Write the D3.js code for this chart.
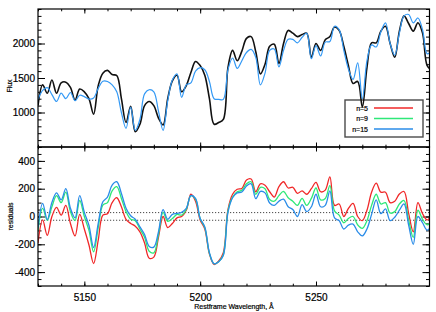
<!DOCTYPE html>
<html>
<head>
<meta charset="utf-8">
<script src="https://cdn.jsdelivr.net/npm/d3@7"></script>
<style>
  body { margin: 0; background: #fff; }
  svg { display: block; }
  svg text { stroke: #000; stroke-width: 0.2px; }
</style>
</head>
<body>
<svg id="chart" width="436" height="312"></svg>
<script>
// rest-frame wavelength grid (A)
var wave = [
  5130, 5132, 5134, 5136, 5138, 5140, 5142, 5144, 5146, 5148,
  5150, 5152, 5154, 5156, 5158, 5160, 5162, 5164, 5166, 5168,
  5170, 5172, 5174, 5176, 5178, 5180, 5182, 5184, 5186, 5188,
  5190, 5192, 5194, 5196, 5198, 5200, 5202, 5204, 5206, 5208,
  5210, 5212, 5214, 5216, 5218, 5220, 5222, 5224, 5226, 5228,
  5230, 5232, 5234, 5236, 5238, 5240, 5242, 5244, 5246, 5248,
  5250, 5252, 5254, 5256, 5258, 5260, 5262, 5264, 5266, 5268,
  5270, 5272, 5274, 5276, 5278, 5280, 5282, 5284, 5286, 5288,
  5290, 5292, 5294, 5296, 5298, 5300
];

// observed flux (black)
var fluxObs = [
  1100, 1400, 1280, 1470, 1280, 1430, 1440, 1365, 1180, 1340,
  1300, 1200, 975, 1390, 1570, 1610, 1550, 1536, 1200, 855,
  1090, 720, 830, 1100, 1160, 1100, 920, 820, 1200, 1460,
  1540, 1300, 1390, 1580, 1740, 1680, 1540, 1200, 830, 855,
  900, 1650, 1900, 1750, 1890, 2075, 2100, 1880, 1560, 1700,
  1960, 1990, 1710, 2000, 2190, 2150, 2100, 2130, 2150, 1800,
  2000, 1900, 2055, 2100, 2240, 2190, 1960, 1680, 1420, 1450,
  1080, 1650, 2010, 2010, 2180, 2250, 2000, 1800, 2180, 2400,
  2290, 2180, 2300, 2150, 1680, 1610
];

// model flux (blue)
var fluxModel = [
  1190, 1320, 1360, 1260, 1160, 1280, 1200, 1290, 1170, 1250,
  1230, 1195, 1210, 1350, 1454, 1450, 1400, 1300, 1000, 770,
  1080, 740, 900, 1270, 1330, 1300, 1020, 740, 1170, 1470,
  1560, 1220, 1400, 1430, 1600, 1650, 1620, 1450, 1200, 1190,
  1190, 1620, 1790, 1640, 1750, 1870, 1915, 1800, 1400, 1570,
  1900, 1920, 1660, 1900, 2060, 2060, 2010, 2090, 2150, 1780,
  1970, 1820, 2020, 2030, 2250, 2200, 1900, 1630, 1480, 1720,
  1200, 1750, 1980, 1950, 2170, 2300, 2000, 1830, 2150, 2400,
  2420, 2300, 2370, 2200, 1850, 1900
];

// residuals for n=5, n=9, n=15
var resN5 = [
  -190, -25, -135, 0, 65, 10, 80, -50, -140, 15,
  -90, -205, -338, -170, 10, 20, 100, 135, 70, -20,
  -50, -70, -110, -190, -300, -292, -150, 0, -80, -50,
  -10, 0, 45, 160, 110, -25, -90, -270, -345, -320,
  -260, 50, 160, 196, 202, 262, 270, 178, 235, 225,
  178, 140, 215, 250, 205, 210, 166, 185, 160, 200,
  245, 178, 190, 285, 80, 90, 0, 58, 94, 0,
  -30, 45, 175, 240, 175, 175, 100, 110, 162, 180,
  22, -110, 100, 20, -25, 22
];
var resN9 = [
  -100, 58, -27, 70, 150, 100, 175, 35, -30, 115,
  0, -100, -254, -80, 82, 100, 185, 215, 130, 35,
  -20, -30, -90, -150, -250, -262, -130, 30, -35, -15,
  15, 10, 50, 150, 125, -15, -80, -265, -340, -325,
  -275, 40, 140, 178, 188, 235, 250, 160, 210, 200,
  122, 110, 150, 180, 135, 110, 80, 130, 80, 130,
  205, 120, 130, 222, 40, 10, -45, -14, 0, -60,
  -85, -30, 80, 160, 90, 100, 25, 35, 90, 115,
  -26, -150, 45, -20, -60, -26
];
var resN15 = [
  -80, 95, -22, 100, 170, 120, 200, 60, -10, 150,
  30, -65, -223, -50, 106, 140, 225, 250, 166, 60,
  5, -20, -75, -130, -215, -220, -110, 50, -20, 15,
  22, 30, 58, 150, 130, -14, -75, -260, -340, -325,
  -280, 30, 135, 170, 176, 220, 235, 128, 180, 170,
  97, 80, 110, 125, 70, 50, 0, 85, 35, 70,
  160, 70, 80, 185, -10, -30, -90, -62, -55, -110,
  -140, -90, 15, 120, 20, 55, -30, -5, 45, 90,
  -62, -200, 0, -45, -98, -62
];

// dotted reference levels in the residual panel
var dottedLevels = [28, -27];

var legendLabels = ["n=5", "n=9", "n=15"];
var legendColors = ["#f02828", "#2ee878", "#2a8ce8"];

var waveTicks = [5150, 5200, 5250];
var fluxTicks = [1000, 1500, 2000];
var resTicks = [-400, -200, 0, 200, 400];

(function() {

  var svg = d3.select("#chart");
  var font = "'Liberation Sans', Arial, Helvetica, sans-serif";

  var left = 38, right = 429.5;
  var topY = 9, midY = 147, bottomY = 286;

  var x = d3.scaleLinear().domain([5130, 5299]).range([left, right]);
  var yFlux = d3.scaleLinear().domain([500, 2500]).range([midY, topY]);
  var yRes = d3.scaleLinear().domain([-500, 500]).range([bottomY, midY]);

  var waveMinor = d3.range(5130, 5300, 10);
  var fluxMinor = d3.range(500, 2501, 100);
  var resMinor = d3.range(-500, 501, 50);

  var defs = svg.append("defs");
  defs.append("clipPath").attr("id", "clipTop")
    .append("rect").attr("x", left).attr("y", topY)
    .attr("width", right - left).attr("height", midY - topY);
  defs.append("clipPath").attr("id", "clipBot")
    .append("rect").attr("x", left).attr("y", midY)
    .attr("width", right - left).attr("height", bottomY - midY);

  var asLabel = function(d) { return String(d); };

  function addAxis(axis, tx, ty) {
    var g = svg.append("g")
      .attr("transform", "translate(" + tx + "," + ty + ")")
      .attr("font-family", font)
      .attr("font-size", 7)
      .call(axis);
    g.select(".domain").remove();
    g.selectAll("line").attr("stroke", "#000").attr("stroke-width", 1);
    g.selectAll("text").attr("fill", "#000");
    return g;
  }

  // ---- ticks, both panels, all four sides pointing in
  [[yFlux, fluxMinor, fluxTicks], [yRes, resMinor, resTicks]].forEach(function(p) {
    addAxis(d3.axisLeft(p[0]).tickValues(p[1]).tickSize(-3.5).tickFormat(""), left, 0);
    addAxis(d3.axisRight(p[0]).tickValues(p[1]).tickSize(-3.5).tickFormat(""), right, 0);
    addAxis(d3.axisLeft(p[0]).tickValues(p[2]).tickSize(-7).tickPadding(3).tickFormat(asLabel), left, 0);
    addAxis(d3.axisRight(p[0]).tickValues(p[2]).tickSize(-7).tickFormat(""), right, 0);
  });

  [[topY, d3.axisTop], [midY, d3.axisBottom], [midY, d3.axisTop]].forEach(function(p) {
    addAxis(p[1](x).tickValues(waveMinor).tickSize(-2.3).tickFormat(""), 0, p[0]);
    addAxis(p[1](x).tickValues(waveTicks).tickSize(-4.5).tickFormat(""), 0, p[0]);
  });
  addAxis(d3.axisBottom(x).tickValues(waveMinor).tickSize(-2.3).tickFormat(""), 0, bottomY);
  addAxis(d3.axisBottom(x).tickValues(waveTicks).tickSize(-4.5).tickPadding(8).tickFormat(asLabel), 0, bottomY);

  // ---- legend (drawn under the curves)
  var leg = svg.append("g");
  leg.append("rect")
    .attr("x", 345).attr("y", 100)
    .attr("width", 78).attr("height", 37)
    .attr("fill", "#fff")
    .attr("stroke", "#4a4a4a")
    .attr("stroke-width", 1.4);
  legendLabels.forEach(function(lab, i) {
    var ly = 108 + i * 10.5;
    leg.append("text")
      .attr("x", 368).attr("y", ly + 2.5)
      .attr("text-anchor", "end")
      .attr("font-family", font)
      .attr("font-size", 7)
      .attr("fill", "#000")
      .text(lab);
    leg.append("line")
      .attr("x1", 374).attr("x2", 413)
      .attr("y1", ly).attr("y2", ly)
      .attr("stroke", legendColors[i])
      .attr("stroke-width", 1.3);
  });

  // ---- top panel: flux
  var fluxLine = function(vals) {
    return d3.line()
      .x(function(d, i) { return x(wave[i]); })
      .y(function(d) { return yFlux(d); })
      .curve(d3.curveCatmullRom.alpha(0.5))(vals);
  };
  var top = svg.append("g").attr("clip-path", "url(#clipTop)");
  top.append("path").attr("d", fluxLine(fluxObs))
    .attr("fill", "none").attr("stroke", "#111").attr("stroke-width", 1.6);
  top.append("path").attr("d", fluxLine(fluxModel))
    .attr("fill", "none").attr("stroke", "#3399f5").attr("stroke-width", 1.2);

  // ---- bottom panel: residuals
  var resLine = function(vals) {
    return d3.line()
      .x(function(d, i) { return x(wave[i]); })
      .y(function(d) { return yRes(d); })
      .curve(d3.curveCatmullRom.alpha(0.5))(vals);
  };
  var bot = svg.append("g").attr("clip-path", "url(#clipBot)");
  dottedLevels.forEach(function(v) {
    bot.append("line")
      .attr("x1", left).attr("x2", right)
      .attr("y1", yRes(v)).attr("y2", yRes(v))
      .attr("stroke", "#333")
      .attr("stroke-width", 0.9)
      .attr("stroke-dasharray", "1.2,1.8");
  });
  [resN5, resN9, resN15].forEach(function(vals, i) {
    bot.append("path").attr("d", resLine(vals))
      .attr("fill", "none")
      .attr("stroke", legendColors[i])
      .attr("stroke-width", 1.3);
  });

  // ---- frames
  svg.append("rect")
    .attr("x", left).attr("y", topY)
    .attr("width", right - left).attr("height", midY - topY)
    .attr("fill", "none").attr("stroke", "#000").attr("stroke-width", 1.2);
  svg.append("rect")
    .attr("x", left).attr("y", midY)
    .attr("width", right - left).attr("height", bottomY - midY)
    .attr("fill", "none").attr("stroke", "#000").attr("stroke-width", 1.2);

  // ---- axis titles
  svg.append("text")
    .attr("transform", "translate(11.5," + ((topY + midY) / 2 + 8) + ") rotate(-90)")
    .attr("text-anchor", "middle")
    .attr("font-family", font).attr("font-size", 7).attr("fill", "#000")
    .text("Flux");
  svg.append("text")
    .attr("transform", "translate(12.5," + ((midY + bottomY) / 2) + ") rotate(-90)")
    .attr("text-anchor", "middle")
    .attr("font-family", font).attr("font-size", 7).attr("fill", "#000")
    .text("residuals");
  svg.append("text")
    .attr("x", 234).attr("y", 309)
    .attr("text-anchor", "middle")
    .attr("font-family", font).attr("font-size", 7).attr("fill", "#000")
    .text("Restframe Wavelength, \u00c5");

})();
</script>
</body>
</html>
